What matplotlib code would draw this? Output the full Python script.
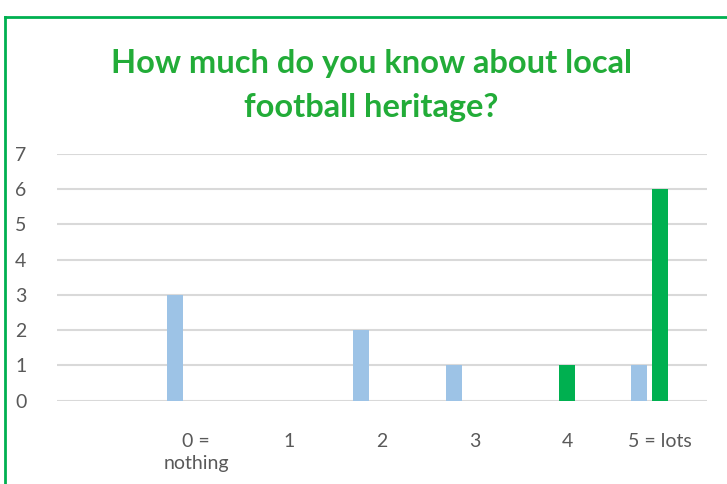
import numpy as np
import matplotlib
matplotlib.use("Agg")
import matplotlib.pyplot as plt
from matplotlib.lines import Line2D

# chart data
categories = ["", "0 =\nnothing", "1", "2", "3", "4", "5 = lots"]
series_blue = [0, 3, 0, 2, 1, 0, 1]
series_green = [0, 0, 0, 0, 0, 1, 6]
y_ticks = [0, 1, 2, 3, 4, 5, 6, 7]
title_lines = ["How much do you know about local", "football heritage?"]

W, H = 727, 484
fig = plt.figure(figsize=(W / 100, H / 100), dpi=100)
fig.patch.set_facecolor("white")

# plot area in pixel terms
left, right, top, bottom = 57, 706.7, 154, 400.7
ax = fig.add_axes([left / W, 1 - bottom / H, (right - left) / W, (bottom - top) / H])

x = np.arange(len(categories))
bar_w = 0.172
ax.bar(x - 0.226, series_blue, width=bar_w, color="#9dc3e6", zorder=3)
ax.bar(x, series_green, width=bar_w, color="#00b050", zorder=3)

ax.set_xlim(-0.5, len(categories) - 0.5)
ax.set_ylim(0, 7)
ax.set_yticks(y_ticks)
ax.set_xticks(x)
ax.set_xticklabels(categories, linespacing=1.4)

for s in ax.spines.values():
    s.set_visible(False)
ax.grid(axis="y", color="#d9d9d9", linewidth=1.5, zorder=0)
ax.set_axisbelow(True)
ax.tick_params(length=0, labelsize=14, colors="#595959")
ax.tick_params(axis="y", pad=22)
ax.tick_params(axis="x", pad=23)
for lab in ax.get_xticklabels() + ax.get_yticklabels():
    lab.set_fontfamily("Lato")
    lab.set_color("#595959")

# title, one text per line so the line gap matches
for line, ypix in zip(title_lines, [64, 107]):
    fig.text(371.5 / W, 1 - ypix / H, line, ha="center", va="center",
             fontsize=23.5, color="#22ac38", family="Lato", fontweight="bold")

# green chart border (cut off at right and bottom)
fig.add_artist(Line2D([5 / W, 1], [1 - 17 / H, 1 - 17 / H], color="#00b050",
                      linewidth=2, transform=fig.transFigure))
fig.add_artist(Line2D([5 / W, 5 / W], [1 - 17 / H, 0], color="#00b050",
                      linewidth=2, transform=fig.transFigure))

fig.savefig("out.png", dpi=100)
